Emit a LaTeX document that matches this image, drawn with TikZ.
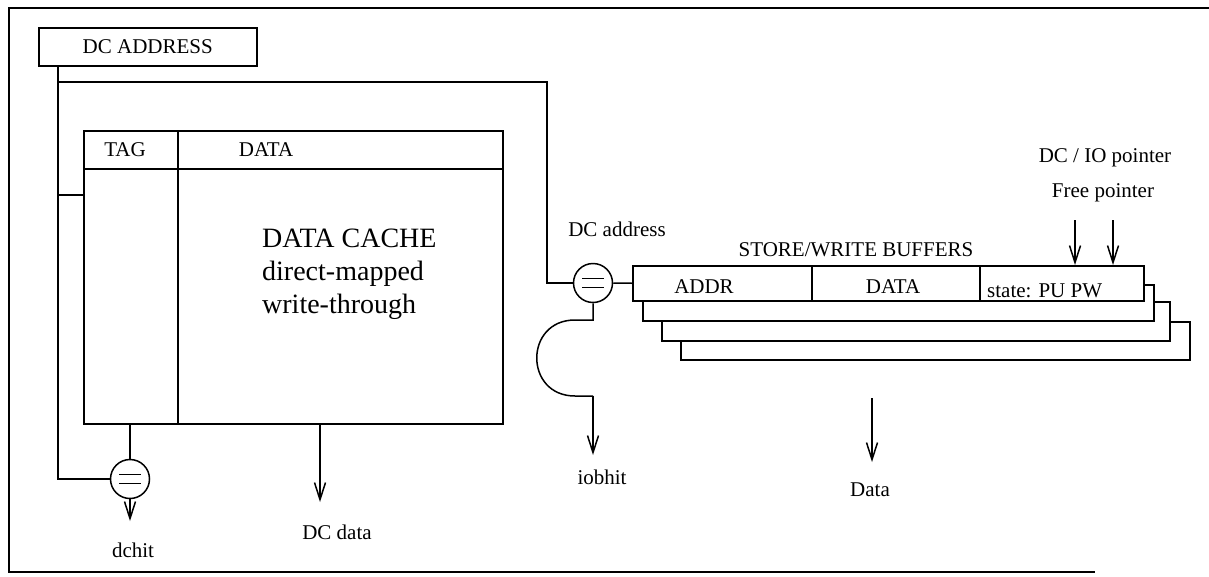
\documentclass[tikz,border=0pt]{standalone}
\usepackage{fontspec}
\setmainfont{Liberation Serif}
\usetikzlibrary{arrows.meta}

\begin{document}
\begin{tikzpicture}[x=1pt,y=-1pt,
  wire/.style={line width=1.5pt},
  sig/.style={wire,-{Straight Barb[length=17pt,width=11pt,line width=1.5pt]}},
  lbl/.style={font=\fontsize{21}{25}\selectfont, inner sep=0pt},
  big/.style={font=\fontsize{28}{33}\selectfont, inner sep=0pt},
  box/.style={draw,line width=1.5pt,inner sep=0pt,anchor=north west},
  buf/.style={box,fill=white},
  cmp/.style={circle,draw,line width=1.5pt,minimum size=39pt,inner sep=0pt,
    path picture={
      \draw[line width=1.5pt] ([shift={(-11pt,4.5pt)}]path picture bounding box.center) -- ++(22pt,0pt);
      \draw[line width=1.5pt] ([shift={(-11pt,-4.5pt)}]path picture bounding box.center) -- ++(22pt,0pt);}}
]
\useasboundingbox (0,0) rectangle (1209,576);

% outer frame
\draw[wire] (1209,8) -- (9,8) -- (9,572) -- (1095,572);

% address register
\node[box,lbl,minimum width=218pt,minimum height=38pt] (dca) at (38,27) {DC ADDRESS};

% data cache array
\node[box,minimum width=419pt,minimum height=293pt] (cache) at (83,130) {};
\coordinate (hdrL) at (83,169);
\coordinate (tagT) at (178,130);
\draw[wire] (hdrL) -- (hdrL -| cache.east);
\draw[wire] (tagT) -- (tagT |- cache.south);
\node[lbl] (tag) at (125,150) {TAG};
\node[lbl] (cdata) at (266,150) {DATA};
\node[big,anchor=base west] (t1) at (262,247) {DATA CACHE};
\node[big,anchor=base west] (t2) at (262,280) {direct-mapped};
\node[big,anchor=base west] (t3) at (262,313) {write-through};

% comparators
\node[cmp] (cmpA) at (130,479) {};
\node[cmp] (cmpB) at (593,283) {};

% address wiring
\coordinate (j1) at (58,82);
\coordinate (j2) at (58,195);
\coordinate (bend) at (547,283);
\draw[wire] ([xshift=20pt]dca.south west) |- (cmpA.west);
\draw[wire] (j1) -| (bend) -- (cmpB.west);
\draw[wire] (j2) -- (j2 -| cache.west);
\draw[wire] (cmpA.north |- cache.south) -- (cmpA.north);

% cache outputs
\coordinate (dchitEnd) at (130,521);
\draw[sig] (cmpA.south) -- (dchitEnd);
\node[lbl] (dchit) at (133,550) {dchit};
\coordinate (ddEnd) at (320,502);
\draw[sig] (ddEnd |- cache.south) -- (ddEnd);
\node[lbl] (dcdata) at (337,532) {DC data};

% store / write buffers, drawn back to front
\node[buf,minimum width=509pt,minimum height=38pt] (b4) at (680,321) {};
\node[buf,minimum width=508pt,minimum height=39pt] (b3) at (661,301) {};
\node[buf,minimum width=511pt,minimum height=36pt] (b2) at (642,284) {};
\node[buf,minimum width=511pt,minimum height=35pt] (b1) at (632,265) {};
\coordinate (d1) at (812,265);
\coordinate (d2) at (980,265);
\draw[wire] (d1) -- (d1 |- b1.south);
\draw[wire] (d2) -- (d2 |- b1.south);
\node[lbl] (addr) at (704,287) {ADDR};
\node[lbl] (bdata) at (893,287) {DATA};
\node[lbl,anchor=base west] (state) at (987,297) {state: PU PW};
\node[lbl] (swb) at (856,250) {STORE/WRITE BUFFERS};
\node[lbl] (dcaddr) at (617,229) {DC address};

\draw[wire] (cmpB.east) -- (b1.west);

% buffer pointers
\node[lbl] (ptr1) at (1105,158) {DC / IO pointer};
\node[lbl] (ptr2) at (1103,193) {Free pointer};
\coordinate (pA) at (1075,220);
\coordinate (pB) at (1113,220);
\draw[sig] (pA) -- (pA |- b1.north);
\draw[sig] (pB) -- (pB |- b1.north);

% io buffer hit, routed around
\coordinate (h1) at (593,320);
\coordinate (h2) at (575,320);
\coordinate (h3) at (575,396);
\coordinate (h4) at (593,396);
\coordinate (iobEnd) at (593,455);
\draw[wire] (cmpB.south) -- (h1) -- (h2) .. controls (524,320) and (524,396) .. (h3) -- (h4);
\draw[sig] (h4) -- (iobEnd);
\node[lbl] (iobhit) at (602,477) {iobhit};

% buffer data out
\coordinate (bdTop) at (872,398);
\coordinate (bdEnd) at (872,462);
\draw[sig] (bdTop) -- (bdEnd);
\node[lbl] (bdout) at (870,490) {Data};
\end{tikzpicture}
\end{document}
